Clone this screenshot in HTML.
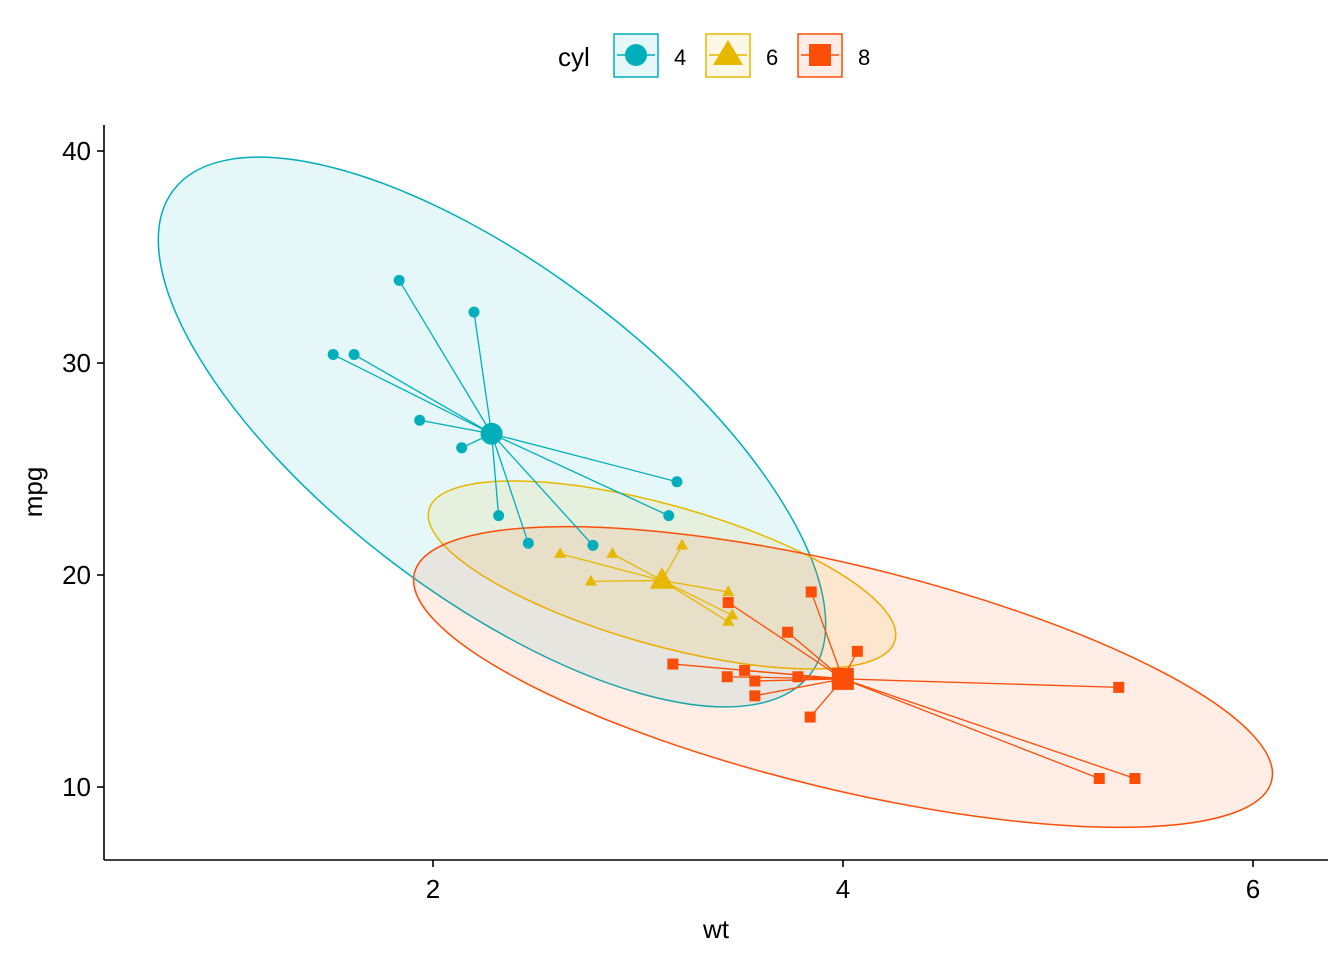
<!DOCTYPE html>
<html><head><meta charset="utf-8"><style>
html,body{margin:0;padding:0;background:#fff;}
svg text{font-family:"Liberation Sans",Arial,sans-serif;}
</style></head><body>
<svg id="s" width="1344" height="960" xmlns="http://www.w3.org/2000/svg">
<rect width="1344" height="960" fill="#fff"/>
<g id="ell"></g>
<g id="seg"></g>
<g id="pts"></g>
<line x1="104" y1="125" x2="104" y2="860" stroke="#000" stroke-width="1.6"/>
<line x1="104" y1="860" x2="1328" y2="860" stroke="#000" stroke-width="1.6"/>
<g stroke="#000" stroke-width="1.6">
<line x1="97" y1="151" x2="104" y2="151"/><line x1="97" y1="363" x2="104" y2="363"/>
<line x1="97" y1="575" x2="104" y2="575"/><line x1="97" y1="787" x2="104" y2="787"/>
<line x1="433" y1="860" x2="433" y2="867"/><line x1="843" y1="860" x2="843" y2="867"/>
<line x1="1253" y1="860" x2="1253" y2="867"/>
</g>
<g font-size="26" fill="#000" text-anchor="end">
<text x="91" y="160">40</text><text x="91" y="372">30</text>
<text x="91" y="584">20</text><text x="91" y="796">10</text>
</g>
<g font-size="26" fill="#000" text-anchor="middle">
<text x="433" y="898">2</text><text x="843" y="898">4</text><text x="1253" y="898">6</text>
<text x="716" y="938">wt</text>
<text transform="translate(42,492) rotate(-90)">mpg</text>
</g>
<g font-size="26">
<text x="558" y="66">cyl</text>
<rect x="614" y="34" width="44" height="43" fill="#e5f7f8" stroke="#00AFBB" stroke-width="1.5"/>
<line x1="617" y1="55" x2="655" y2="55" stroke="#00AFBB" stroke-width="1.5"/>
<circle cx="636" cy="55" r="11" fill="#00AFBB"/>
<rect x="706" y="34" width="44" height="43" fill="#fdf8e5" stroke="#E7B800" stroke-width="1.5"/>
<line x1="709" y1="55" x2="747" y2="55" stroke="#E7B800" stroke-width="1.5"/>
<polygon points="728,40 743,65 713,65" fill="#E7B800"/>
<rect x="798" y="34" width="44" height="43" fill="#feede6" stroke="#FC4E07" stroke-width="1.5"/>
<line x1="801" y1="55" x2="839" y2="55" stroke="#FC4E07" stroke-width="1.5"/>
<rect x="809" y="44" width="22" height="22" fill="#FC4E07"/>
<text x="674" y="65" font-size="22">4</text>
<text x="766" y="65" font-size="22">6</text>
<text x="858" y="65" font-size="22">8</text>
</g>
</svg>
<script>
const X=w=>433+(w-2)*205, Y=m=>151+(40-m)*21.2;
const groups=[
 {c:"#00AFBB",f:"rgba(0,175,187,0.1)",sh:"c",e:[492,432,400,164,37.2],
  d:[[2.32,22.8],[3.19,24.4],[3.15,22.8],[2.2,32.4],[1.615,30.4],[1.835,33.9],[2.465,21.5],[1.935,27.3],[2.14,26.0],[1.513,30.4],[2.78,21.4]]},
 {c:"#E7B800",f:"rgba(231,184,0,0.1)",sh:"t",e:[662,575,242,70,15.7],
  d:[[2.62,21.0],[2.875,21.0],[3.215,21.4],[3.46,18.1],[3.44,19.2],[3.44,17.8],[2.77,19.7]]},
 {c:"#FC4E07",f:"rgba(252,78,7,0.1)",sh:"s",e:[843,677,441,112,13.6],
  d:[[3.44,18.7],[3.57,14.3],[4.07,16.4],[3.73,17.3],[3.78,15.2],[5.25,10.4],[5.424,10.4],[5.345,14.7],[3.52,15.5],[3.435,15.2],[3.84,13.3],[3.845,19.2],[3.17,15.8],[3.57,15.0]]}
];
let E="",S="",P="";
function shape(sh,x,y,r,c){
 if(sh=="c")return `<circle cx="${x}" cy="${y}" r="${r}" fill="${c}"/>`;
 if(sh=="s")return `<rect x="${x-r}" y="${y-r}" width="${2*r}" height="${2*r}" fill="${c}"/>`;
 return `<polygon points="${x},${y-r*1.2} ${x+r*1.1},${y+r*0.75} ${x-r*1.1},${y+r*0.75}" fill="${c}"/>`;
}
for(const g of groups){
 const [cx,cy,a,b,t]=g.e;
 E+=`<ellipse cx="${cx}" cy="${cy}" rx="${a}" ry="${b}" transform="rotate(${t} ${cx} ${cy})" fill="${g.f}" stroke="${g.c}" stroke-width="1.5"/>`;
 let mx=0,my=0;g.d.forEach(p=>{mx+=p[0];my+=p[1]});mx/=g.d.length;my/=g.d.length;
 const MX=X(mx),MY=Y(my);
 g.d.forEach(p=>{S+=`<line x1="${MX}" y1="${MY}" x2="${X(p[0])}" y2="${Y(p[1])}" stroke="${g.c}" stroke-width="1.3"/>`;
  P+=shape(g.sh,X(p[0]),Y(p[1]),5.5,g.c);});
 P+=shape(g.sh,MX,MY,11,g.c);
}
document.getElementById("ell").innerHTML=E;
document.getElementById("seg").innerHTML=S;
document.getElementById("pts").innerHTML=P;
</script>
</body></html>
